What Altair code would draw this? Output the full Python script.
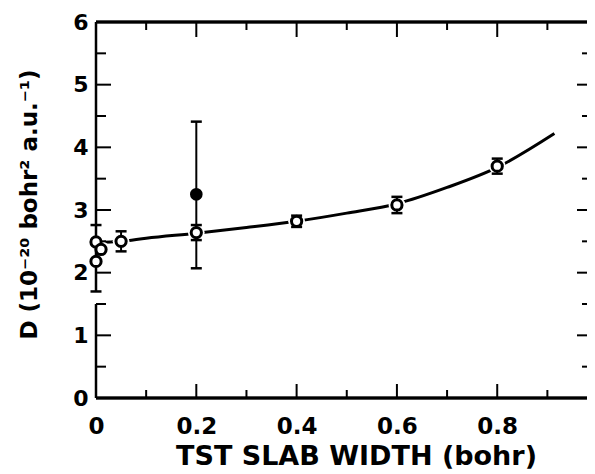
import altair as alt
import pandas as pd

# ---- data ----
curve_x = [0.0, 0.05, 0.1, 0.2, 0.3, 0.4, 0.5, 0.6, 0.7, 0.8, 0.914]
curve_y = [2.48, 2.50, 2.55, 2.63, 2.72, 2.82, 2.95, 3.10, 3.36, 3.68, 4.22]

open_x = [0.0, 0.01, 0.0, 0.05, 0.2, 0.4, 0.6, 0.8]
open_y = [2.49, 2.37, 2.18, 2.50, 2.64, 2.82, 3.08, 3.70]
open_lo = [None, None, 1.70, 2.34, 2.52, 2.73, 2.95, 3.58]
open_hi = [None, None, 2.76, 2.66, 2.76, 2.91, 3.21, 3.82]

filled_x = [0.2]
filled_y = [3.25]
filled_lo = [2.07]
filled_hi = [4.41]

x_major = [0.2, 0.4, 0.6, 0.8]
x_minor = [0.1, 0.3, 0.5, 0.7, 0.9]
x_labels = [0, 0.2, 0.4, 0.6, 0.8]
y_major = [1, 2, 3, 4, 5]
y_minor = [0.5, 1.5, 2.5, 3.5, 4.5, 5.5]
y_labels = [0, 1, 2, 3, 4, 5, 6]
left_seg_lo = [0.0, 1.70]
left_seg_hi = [1.50, 6.0]

X_MAX = 0.979
W, H = 491, 376
FONT = "DejaVu Sans"

curve = pd.DataFrame({"x": curve_x, "y": curve_y})
opens = pd.DataFrame({"x": open_x, "y": open_y, "lo": open_lo, "hi": open_hi})
filled = pd.DataFrame({"x": filled_x, "y": filled_y, "lo": filled_lo, "hi": filled_hi})
errs = pd.concat([opens.dropna(), filled], ignore_index=True)
xmaj = pd.DataFrame({"v": x_major})
xmin = pd.DataFrame({"v": x_minor})
ymaj = pd.DataFrame({"v": y_major})
ymin = pd.DataFrame({"v": y_minor})
lseg = pd.DataFrame({"lo": left_seg_lo, "hi": left_seg_hi})

xs = alt.Scale(domain=[0, X_MAX], nice=False, zero=False)
ys = alt.Scale(domain=[0, 6], nice=False, zero=False)

AX_X = alt.Axis(
    values=x_labels, format=".1~f", domain=False, ticks=False, grid=False,
    labelFont=FONT, labelFontSize=23, labelFontWeight="bold", labelColor="black",
    labelPadding=17, labelFlush=False,
    title="TST SLAB WIDTH (bohr)", titleFont=FONT, titleFontSize=27,
    titleFontWeight="bold", titleColor="black",
    titleBaseline="alphabetic", titleAlign="center", titleX=260, titleY=66)
AX_Y = alt.Axis(
    values=y_labels, format="d", domain=False, ticks=False, grid=False,
    labelFont=FONT, labelFontSize=22, labelFontWeight="bold", labelColor="black",
    labelPadding=8, labelFlush=False,
    title="D (10⁻²⁰ bohr² a.u.⁻¹)", titleFont=FONT, titleFontSize=23,
    titleFontWeight="bold", titleColor="black",
    titleBaseline="alphabetic", titleAlign="center", titleAngle=270,
    titleX=-60, titleY=182)


def X(f):
    return alt.X(f, type="quantitative", scale=xs, axis=AX_X)


def Y(f):
    return alt.Y(f, type="quantitative", scale=ys, axis=AX_Y)


line = alt.Chart(curve).mark_line(color="black", strokeWidth=3, interpolate="monotone").encode(
    x=X("x"), y=Y("y"))

halo = alt.Chart(opens).mark_circle(color="white", opacity=1, size=280).encode(
    x=X("x"), y=Y("y"))

frame_b = alt.Chart(xmaj).mark_rule(color="black", strokeWidth=2.5).encode(
    x=alt.value(0), x2=alt.value(W), y=alt.value(H))
frame_t = alt.Chart(xmaj).mark_rule(color="black", strokeWidth=2.5).encode(
    x=alt.value(0), x2=alt.value(W), y=alt.value(0))
frame_l = alt.Chart(lseg).mark_rule(color="black", strokeWidth=2.5).encode(
    x=alt.value(0), y=Y("lo"), y2="hi:Q")


def xticks(df, y0, y1):
    return alt.Chart(df).mark_rule(color="black", strokeWidth=2).encode(
        x=X("v"), y=alt.value(y0), y2=alt.value(y1))


def yticks(df, x0, x1):
    return alt.Chart(df).mark_rule(color="black", strokeWidth=2).encode(
        y=Y("v"), x=alt.value(x0), x2=alt.value(x1))


ticks = [
    xticks(xmaj, H, H - 14), xticks(xmin, H, H - 8),
    xticks(xmaj, 0, 15), xticks(xmin, 0, 8),
    yticks(ymaj, 0, 15), yticks(ymin, 0, 10),
    yticks(ymaj, W - 10, W), yticks(ymin, W - 5, W),
]

ebar = alt.Chart(errs).mark_rule(color="black", strokeWidth=2).encode(
    x=X("x"), y=Y("lo"), y2="hi:Q")
cap_lo = alt.Chart(errs).mark_tick(color="black", orient="horizontal", size=11,
                                   thickness=2.5, opacity=1).encode(x=X("x"), y=Y("lo"))
cap_hi = alt.Chart(errs).mark_tick(color="black", orient="horizontal", size=11,
                                   thickness=2.5, opacity=1).encode(x=X("x"), y=Y("hi"))

open_pts = alt.Chart(opens).mark_point(shape="circle", filled=True, fill="white", stroke="black",
                                       strokeWidth=3, size=105, opacity=1).encode(
    x=X("x"), y=Y("y"))
filled_pts = alt.Chart(filled).mark_point(shape="circle", filled=True, color="black",
                                          size=160, opacity=1).encode(
    x=X("x"), y=Y("y"))

chart = alt.layer(
    line, halo, frame_b, frame_t, frame_l, *ticks, ebar, cap_lo, cap_hi, open_pts, filled_pts
).properties(
    width=W, height=H,
    autosize=alt.AutoSizeParams(type="none"),
    padding={"left": 88, "top": 14, "right": 0, "bottom": 76},
    background="white",
).configure_view(stroke=None)

chart.save("out.html", embed_options={"renderer": "svg", "actions": False})
